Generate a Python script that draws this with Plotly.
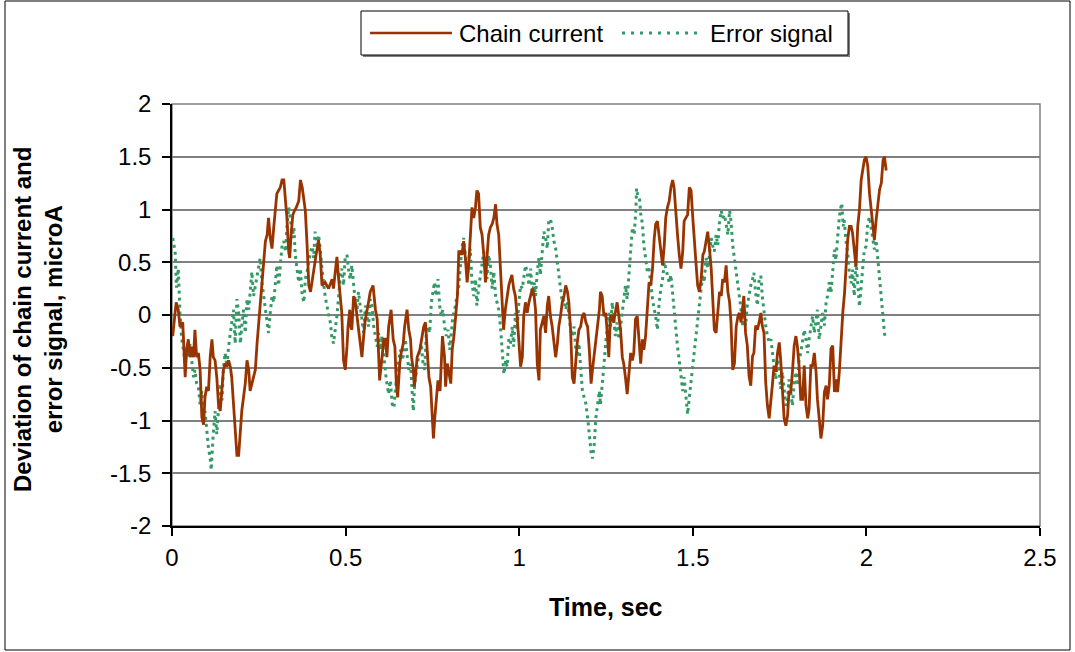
import plotly.graph_objects as go

# Chain current deviation, (time in s, value in microA)
chain_current = [
    (0.002, -0.20), (0.012, 0.12), (0.018, 0.05), (0.023, -0.11), (0.031, -0.07), (0.035, -0.40),
    (0.038, -0.59), (0.042, -0.33), (0.047, -0.23), (0.052, -0.40), (0.057, -0.30), (0.062, -0.40),
    (0.066, -0.14), (0.071, -0.40), (0.076, -0.36), (0.081, -0.52), (0.086, -0.97), (0.091, -1.04),
    (0.095, -0.78), (0.100, -0.68), (0.105, -0.72), (0.110, -0.40), (0.115, -0.23), (0.119, -0.40),
    (0.124, -0.43), (0.129, -0.59), (0.134, -0.85), (0.139, -0.91), (0.144, -0.65), (0.148, -0.52),
    (0.153, -0.46), (0.158, -0.49), (0.163, -0.43), (0.168, -0.49), (0.172, -0.59), (0.177, -0.85),
    (0.182, -1.04), (0.187, -1.33), (0.192, -1.33), (0.197, -1.04), (0.201, -0.91), (0.206, -0.78),
    (0.211, -0.65), (0.216, -0.43), (0.221, -0.52), (0.225, -0.72), (0.230, -0.65), (0.235, -0.59),
    (0.240, -0.52), (0.245, -0.27), (0.250, -0.07), (0.254, 0.05), (0.259, 0.28), (0.264, 0.47),
    (0.269, 0.70), (0.274, 0.76), (0.278, 0.92), (0.283, 0.73), (0.288, 0.63), (0.293, 0.83),
    (0.298, 1.02), (0.302, 1.15), (0.307, 1.18), (0.312, 1.21), (0.317, 1.28), (0.322, 1.28),
    (0.327, 1.08), (0.331, 0.92), (0.336, 0.60), (0.339, 0.54), (0.343, 0.76), (0.348, 0.95),
    (0.353, 0.99), (0.358, 1.02), (0.365, 1.08), (0.370, 1.28), (0.375, 1.21), (0.380, 1.05),
    (0.384, 0.99), (0.389, 0.67), (0.394, 0.28), (0.399, 0.22),
    (0.408, 0.44), (0.415, 0.57), (0.422, 0.71), (0.427, 0.57), (0.432, 0.28), (0.441, 0.31),
    (0.451, 0.25), (0.461, 0.34), (0.465, 0.25), (0.475, 0.55), (0.480, 0.34), (0.485, 0.18),
    (0.489, 0.02), (0.494, -0.43), (0.499, -0.52), (0.504, -0.30), (0.507, -0.11), (0.512, 0.05),
    (0.515, -0.11), (0.518, -0.14), (0.523, 0.18), (0.528, 0.12), (0.533, -0.01), (0.538, -0.11),
    (0.542, -0.23), (0.547, -0.40), (0.552, -0.20), (0.557, -0.04), (0.566, 0.12), (0.571, 0.22),
    (0.579, 0.28), (0.586, 0.05), (0.591, -0.04), (0.595, -0.40), (0.598, -0.62), (0.605, -0.40),
    (0.610, -0.23), (0.615, -0.23), (0.619, -0.40), (0.624, -0.11), (0.631, 0.05), (0.637, -0.23),
    (0.642, -0.30), (0.646, -0.65), (0.650, -0.78), (0.656, -0.46), (0.660, -0.36), (0.666, -0.27),
    (0.670, -0.11), (0.677, 0.05), (0.682, -0.14), (0.687, -0.23), (0.690, -0.40), (0.695, -0.52),
    (0.698, -0.68), (0.701, -0.59), (0.706, -0.40), (0.714, -0.33), (0.719, -0.23), (0.725, -0.11),
    (0.730, -0.07), (0.735, -0.30), (0.740, -0.59), (0.745, -0.68), (0.750, -1.01), (0.753, -1.17),
    (0.757, -0.97), (0.762, -0.78), (0.766, -0.62), (0.772, -0.72), (0.776, -0.49), (0.779, -0.20),
    (0.785, -0.40), (0.788, -0.68), (0.793, -0.46), (0.798, -0.56), (0.803, -0.65), (0.807, -0.33),
    (0.812, -0.20), (0.817, -0.01), (0.822, 0.18), (0.826, 0.60),
    (0.830, 0.60), (0.835, 0.57), (0.840, 0.70), (0.845, 0.54), (0.850, 0.31), (0.854, 0.44),
    (0.859, 0.76), (0.864, 1.02), (0.869, 0.92), (0.874, 1.02), (0.878, 1.18), (0.883, 1.15),
    (0.888, 0.83), (0.893, 0.76), (0.898, 0.57), (0.903, 0.31), (0.907, 0.54), (0.912, 0.76),
    (0.917, 0.83), (0.922, 0.86), (0.927, 0.92), (0.932, 1.05), (0.936, 0.86), (0.941, 0.76),
    (0.946, 0.44), (0.951, 0.02), (0.955, -0.14), (0.960, 0.05), (0.965, 0.18), (0.970, 0.28),
    (0.975, 0.34), (0.979, 0.38), (0.984, 0.25), (0.989, 0.18), (0.994, -0.01), (0.999, -0.27),
    (1.004, -0.49), (1.009, -0.40), (1.013, -0.01), (1.018, 0.12), (1.023, 0.02), (1.028, 0.12),
    (1.033, 0.18), (1.038, 0.25), (1.043, 0.18), (1.047, 0.05), (1.052, -0.46), (1.057, -0.62),
    (1.061, -0.14), (1.066, -0.07), (1.071, -0.01), (1.076, -0.17), (1.081, 0.09), (1.085, 0.18),
    (1.090, -0.01), (1.095, -0.11), (1.100, -0.27), (1.105, -0.40), (1.110, -0.27), (1.114, -0.11),
    (1.119, -0.01), (1.124, 0.12), (1.129, 0.18), (1.134, 0.28), (1.139, 0.22), (1.143, 0.12),
    (1.148, -0.14), (1.153, -0.59), (1.158, -0.65), (1.163, -0.40), (1.167, -0.27), (1.172, -0.14),
    (1.177, -0.11), (1.182, -0.01), (1.187, 0.02), (1.192, -0.07), (1.197, -0.11), (1.202, -0.33),
    (1.207, -0.65), (1.211, -0.52), (1.216, -0.36), (1.221, -0.20), (1.226, -0.04), (1.231, 0.05),
    (1.234, 0.22), (1.239, 0.18), (1.244, -0.01), (1.249, 0.02), (1.253, -0.14), (1.258, -0.40),
    (1.263, -0.01), (1.268, -0.01), (1.272, -0.07), (1.277, 0.02), (1.282, 0.12), (1.287, -0.01),
    (1.292, -0.14), (1.297, -0.40), (1.301, -0.46), (1.306, -0.59), (1.311, -0.75), (1.316, -0.56),
    (1.321, -0.36), (1.326, -0.43), (1.330, -0.36), (1.335, -0.04), (1.340, -0.01), (1.345, -0.23),
    (1.350, -0.46), (1.355, -0.23), (1.359, -0.33), (1.364, -0.20), (1.369, 0.12), (1.374, 0.31),
    (1.379, 0.28), (1.384, 0.44), (1.389, 0.73), (1.393, 0.86), (1.398, 0.89), (1.403, 0.76),
    (1.408, 0.60), (1.413, 0.47), (1.418, 0.67), (1.422, 0.92), (1.427, 1.02), (1.432, 1.08),
    (1.437, 1.21), (1.442, 1.28), (1.446, 1.21), (1.451, 0.95), (1.456, 0.76), (1.461, 0.57),
    (1.466, 0.44), (1.471, 0.60), (1.475, 0.89), (1.480, 0.92), (1.485, 0.95), (1.490, 1.21),
    (1.495, 1.18), (1.500, 0.92), (1.504, 0.70), (1.509, 0.50), (1.514, 0.28), (1.519, 0.22),
    (1.524, 0.34), (1.529, 0.57), (1.533, 0.60), (1.538, 0.70), (1.543, 0.79), (1.548, 0.63),
    (1.553, 0.44), (1.557, 0.18), (1.562, -0.14), (1.567, -0.17), (1.572, 0.02), (1.577, 0.22),
    (1.582, 0.18), (1.586, 0.34), (1.591, 0.31), (1.596, 0.47), (1.601, 0.22), (1.606, 0.12),
    (1.610, -0.07), (1.615, -0.52), (1.620, -0.46), (1.625, -0.11), (1.630, -0.01), (1.634, 0.02),
    (1.639, -0.07), (1.644, 0.12),
    (1.647, 0.18), (1.652, -0.17), (1.657, -0.29), (1.662, -0.58), (1.667, -0.67), (1.672, -0.39),
    (1.676, -0.36), (1.681, -0.10), (1.686, -0.14), (1.691, -0.07), (1.696, 0.02), (1.700, -0.10),
    (1.705, -0.17), (1.710, -0.64), (1.715, -0.86), (1.720, -0.98), (1.725, -0.83), (1.729, -0.67),
    (1.734, -0.48), (1.739, -0.54), (1.744, -0.36), (1.749, -0.26), (1.753, -0.42), (1.758, -0.70),
    (1.763, -0.98), (1.768, -1.05), (1.773, -0.95), (1.777, -0.73), (1.782, -0.73), (1.787, -0.54),
    (1.792, -0.29), (1.797, -0.20), (1.801, -0.29), (1.806, -0.48), (1.811, -0.80), (1.816, -0.80),
    (1.821, -0.48), (1.826, -0.86), (1.831, -0.98), (1.835, -0.89), (1.840, -0.48), (1.845, -0.48),
    (1.850, -0.36), (1.855, -0.54), (1.859, -0.80), (1.864, -0.98), (1.869, -1.17), (1.874, -1.05),
    (1.879, -0.73), (1.884, -0.67), (1.888, -0.80), (1.893, -0.67), (1.898, -0.32), (1.903, -0.29),
    (1.908, -0.73), (1.912, -0.61), (1.917, -0.73), (1.922, -0.54), (1.927, -0.23), (1.932, 0.02),
    (1.937, 0.21), (1.941, 0.43), (1.946, 0.71), (1.951, 0.84), (1.956, 0.84), (1.960, 0.78),
    (1.965, 0.62), (1.970, 0.46), (1.975, 0.84), (1.980, 1.00), (1.985, 1.28), (1.990, 1.37),
    (1.994, 1.47), (1.999, 1.50), (2.004, 1.41), (2.009, 1.15), (2.014, 0.97), (2.018, 0.87),
    (2.023, 0.71), (2.028, 0.90), (2.033, 1.03), (2.038, 1.19), (2.043, 1.25), (2.048, 1.47),
    (2.052, 1.50), (2.057, 1.37),
]

# Error signal, (time in s, value in microA)
error_signal = [
    (0.002, 0.73), (0.009, 0.60), (0.013, 0.26), (0.018, 0.44), (0.023, 0.02), (0.028, -0.23),
    (0.033, -0.33), (0.038, -0.46), (0.042, -0.33), (0.047, -0.40), (0.052, -0.27), (0.057, -0.46),
    (0.062, -0.59), (0.066, -0.52), (0.071, -0.65), (0.076, -0.68), (0.081, -0.85), (0.086, -0.72),
    (0.091, -0.97), (0.095, -0.91), (0.100, -1.13), (0.105, -1.26), (0.110, -1.36), (0.113, -1.47),
    (0.118, -1.17), (0.122, -1.04), (0.124, -0.91), (0.129, -1.13), (0.134, -0.85), (0.139, -0.65),
    (0.144, -0.81), (0.148, -0.52), (0.153, -0.36), (0.158, -0.49), (0.163, -0.30), (0.168, -0.17),
    (0.172, -0.07), (0.177, 0.05), (0.182, -0.27), (0.187, 0.15), (0.192, 0.02), (0.197, -0.27),
    (0.201, -0.11), (0.206, 0.05), (0.211, -0.17), (0.216, 0.15), (0.221, 0.05), (0.225, 0.25),
    (0.230, 0.41), (0.235, 0.18), (0.240, 0.28), (0.245, 0.34), (0.250, 0.44), (0.254, 0.54),
    (0.259, 0.31), (0.264, 0.18), (0.269, 0.05), (0.274, -0.07), (0.278, -0.17), (0.283, 0.02),
    (0.288, 0.18), (0.293, 0.12), (0.298, 0.34), (0.302, 0.47), (0.307, 0.28), (0.312, 0.44),
    (0.317, 0.66), (0.322, 0.70), (0.327, 0.60), (0.331, 0.83), (0.336, 1.02), (0.341, 0.92),
    (0.346, 0.73), (0.351, 0.83), (0.355, 0.57), (0.360, 0.44), (0.365, 0.31), (0.370, 0.44),
    (0.375, 0.18), (0.380, 0.12), (0.384, 0.34), (0.389, 0.41), (0.394, 0.50), (0.399, 0.60),
    (0.404, 0.65), (0.408, 0.54),
    (0.412, 0.79), (0.417, 0.66), (0.422, 0.76), (0.427, 0.63), (0.432, 0.44), (0.436, 0.31),
    (0.441, 0.18), (0.446, 0.09), (0.451, 0.02), (0.456, -0.07), (0.460, -0.20), (0.465, -0.27),
    (0.470, -0.14), (0.475, -0.01), (0.480, 0.18), (0.485, 0.38), (0.489, 0.44), (0.494, 0.28),
    (0.499, 0.55), (0.504, 0.57), (0.508, 0.44), (0.513, 0.34), (0.518, 0.47), (0.523, 0.25),
    (0.528, 0.12), (0.533, 0.05), (0.537, 0.22), (0.542, 0.09), (0.547, -0.04), (0.552, -0.17),
    (0.557, 0.09), (0.562, -0.01), (0.566, -0.11), (0.571, 0.15), (0.576, 0.09), (0.581, -0.11),
    (0.586, -0.23), (0.591, -0.30), (0.595, -0.17), (0.600, -0.33), (0.605, -0.20), (0.610, -0.40),
    (0.615, -0.55), (0.619, -0.65), (0.624, -0.75), (0.629, -0.62), (0.634, -0.84), (0.639, -0.88),
    (0.644, -0.68), (0.649, -0.52), (0.653, -0.43), (0.658, -0.33), (0.663, -0.43), (0.668, -0.36),
    (0.672, -0.23), (0.677, -0.40), (0.682, -0.52), (0.687, -0.46), (0.692, -0.81), (0.695, -0.91),
    (0.699, -0.65), (0.704, -0.52), (0.709, -0.43), (0.713, -0.33), (0.718, -0.27), (0.723, -0.46),
    (0.728, -0.52), (0.732, -0.20), (0.737, -0.11), (0.742, -0.17), (0.747, 0.12), (0.752, 0.25),
    (0.756, 0.31), (0.761, 0.18), (0.766, 0.34), (0.771, 0.09), (0.775, -0.01), (0.780, 0.05),
    (0.785, -0.11), (0.790, -0.20), (0.795, -0.14), (0.800, -0.33), (0.804, -0.20), (0.809, -0.01),
    (0.814, 0.05), (0.819, 0.15), (0.824, 0.25),
    (0.826, 0.28), (0.830, 0.44), (0.835, 0.63), (0.840, 0.73), (0.845, 0.57), (0.850, 0.41),
    (0.854, 0.50), (0.859, 0.63), (0.864, 0.31), (0.869, 0.18), (0.874, 0.34), (0.878, 0.09),
    (0.883, 0.25), (0.888, 0.38), (0.893, 0.47), (0.898, 0.60), (0.903, 0.50), (0.907, 0.34),
    (0.912, 0.57), (0.917, 0.47), (0.922, 0.25), (0.927, 0.41), (0.932, 0.18), (0.936, 0.12),
    (0.941, 0.05), (0.946, -0.11), (0.951, -0.36), (0.956, -0.56), (0.961, -0.43), (0.965, -0.49),
    (0.970, -0.23), (0.975, -0.27), (0.980, -0.11), (0.984, -0.30), (0.989, 0.02), (0.994, -0.14),
    (0.999, 0.12), (1.004, 0.28), (1.009, 0.25), (1.013, 0.34), (1.018, 0.47), (1.023, 0.41),
    (1.028, 0.28), (1.033, 0.44), (1.038, 0.18), (1.043, 0.31), (1.047, 0.18), (1.052, 0.41),
    (1.057, 0.54), (1.061, 0.38), (1.066, 0.57), (1.071, 0.79), (1.076, 0.73), (1.081, 0.63),
    (1.085, 0.89), (1.090, 0.91), (1.095, 0.83), (1.100, 0.70), (1.105, 0.63), (1.110, 0.50),
    (1.114, 0.41), (1.119, 0.25), (1.124, 0.12), (1.129, 0.15), (1.134, 0.05), (1.139, 0.12),
    (1.143, -0.01), (1.148, -0.14), (1.153, -0.20), (1.158, -0.11), (1.163, -0.33), (1.167, -0.40),
    (1.172, -0.27), (1.177, -0.52), (1.182, -0.72), (1.187, -0.78), (1.192, -0.84), (1.197, -0.97),
    (1.202, -1.17), (1.207, -1.30), (1.211, -1.36), (1.216, -1.23), (1.221, -0.97), (1.226, -0.84),
    (1.231, -0.72),
    (1.234, -0.85), (1.239, -0.68), (1.244, -0.52), (1.246, -0.40), (1.249, -0.27), (1.253, -0.11),
    (1.258, 0.02), (1.263, -0.11), (1.268, 0.12), (1.272, -0.04), (1.277, -0.20), (1.282, -0.07),
    (1.287, -0.23), (1.292, -0.11), (1.297, 0.02), (1.301, 0.12), (1.306, 0.28), (1.311, 0.15),
    (1.316, 0.38), (1.319, 0.57), (1.322, 0.70), (1.326, 0.83), (1.331, 0.76), (1.336, 0.99),
    (1.338, 1.20), (1.342, 1.12), (1.347, 1.09), (1.350, 0.96), (1.355, 0.86), (1.359, 0.66),
    (1.364, 0.54), (1.369, 0.41), (1.374, 0.44), (1.379, 0.28), (1.384, 0.15), (1.389, 0.05),
    (1.393, -0.01), (1.398, -0.14), (1.403, 0.12), (1.408, 0.25), (1.413, 0.34), (1.418, 0.50),
    (1.422, 0.44), (1.427, 0.38), (1.432, 0.31), (1.437, 0.38), (1.442, 0.18), (1.446, 0.02),
    (1.451, -0.17), (1.456, -0.30), (1.461, -0.43), (1.466, -0.56), (1.471, -0.72), (1.475, -0.59),
    (1.480, -0.81), (1.485, -0.94), (1.490, -0.78), (1.495, -0.62), (1.499, -0.52), (1.504, -0.33),
    (1.509, -0.17), (1.514, -0.01), (1.519, 0.12), (1.524, 0.25), (1.529, 0.38), (1.533, 0.31),
    (1.538, 0.54), (1.543, 0.44), (1.548, 0.57), (1.553, 0.73), (1.557, 0.66), (1.562, 0.60),
    (1.567, 0.76), (1.572, 0.66), (1.577, 0.89), (1.582, 0.99), (1.586, 0.92), (1.591, 0.95),
    (1.596, 0.86), (1.601, 0.76), (1.606, 0.99), (1.610, 0.89), (1.615, 0.66), (1.620, 0.54),
    (1.625, 0.44), (1.630, 0.31), (1.634, 0.18), (1.639, 0.05), (1.644, -0.11),
    (1.647, 0.02), (1.652, -0.10), (1.657, 0.09), (1.662, 0.21), (1.667, 0.28), (1.672, 0.34),
    (1.676, 0.40), (1.681, 0.21), (1.686, 0.09), (1.691, 0.34), (1.696, 0.37), (1.700, 0.18),
    (1.705, 0.02), (1.710, -0.10), (1.715, -0.20), (1.720, -0.26), (1.725, -0.23), (1.729, -0.36),
    (1.734, -0.48), (1.739, -0.61), (1.744, -0.42), (1.749, -0.54), (1.753, -0.70), (1.758, -0.54),
    (1.763, -0.73), (1.768, -0.86), (1.773, -0.80), (1.777, -0.61), (1.782, -0.73), (1.787, -0.86),
    (1.792, -0.64), (1.797, -0.54), (1.801, -0.67), (1.806, -0.42), (1.811, -0.36), (1.816, -0.23),
    (1.821, -0.14), (1.826, -0.23), (1.831, -0.36), (1.835, -0.23), (1.840, -0.10), (1.845, -0.01),
    (1.850, -0.17), (1.855, -0.04), (1.859, 0.05), (1.864, -0.23), (1.869, -0.10), (1.874, 0.02),
    (1.879, -0.10), (1.884, 0.12), (1.888, 0.18), (1.893, 0.31), (1.898, 0.21), (1.903, 0.46),
    (1.908, 0.62), (1.912, 0.52), (1.917, 0.75), (1.922, 0.93), (1.927, 1.03), (1.929, 1.06),
    (1.933, 0.84), (1.936, 0.90), (1.941, 0.71), (1.946, 0.59), (1.951, 0.40), (1.956, 0.30),
    (1.960, 0.43), (1.965, 0.18), (1.970, 0.52), (1.975, 0.30), (1.980, 0.08), (1.985, 0.27),
    (1.990, 0.46), (1.994, 0.62), (1.999, 0.65), (2.004, 0.87), (2.009, 0.93), (2.014, 0.81),
    (2.018, 0.75), (2.023, 0.62), (2.028, 0.71), (2.033, 0.52), (2.038, 0.30), (2.043, 0.15),
    (2.048, -0.04), (2.052, -0.17), (2.055, -0.23),
]

series_names = ["Chain current", "Error signal"]
x_ticks = [0, 0.5, 1, 1.5, 2, 2.5]
x_tick_labels = ["0", "0.5", "1", "1.5", "2", "2.5"]
y_ticks = [-2, -1.5, -1, -0.5, 0, 0.5, 1, 1.5, 2]
y_tick_labels = ["-2", "-1.5", "-1", "-0.5", "0", "0.5", "1", "1.5", "2"]

chain_t, chain_v = zip(*chain_current)
error_t, error_v = zip(*error_signal)

CHAIN_COLOR = "#993300"
ERROR_COLOR = "#339966"
FONT = "Liberation Sans, Arial, sans-serif"

W, H = 1075, 652
ML, MR, MT, MB = 172, 35, 104, 126
PW, PH = W - ML - MR, H - MT - MB


def px(x):
    """Pixel column -> paper x."""
    return (x - ML) / PW


def py(y):
    """Pixel row -> paper y."""
    return (H - MB - y) / PH


fig = go.Figure()
fig.add_trace(go.Scatter(
    x=error_t, y=error_v, mode="lines", name=series_names[1],
    line=dict(color=ERROR_COLOR, width=3, dash="3px,4px"),
))
fig.add_trace(go.Scatter(
    x=chain_t, y=chain_v, mode="lines", name=series_names[0],
    line=dict(color=CHAIN_COLOR, width=2.8),
))

shapes = [
    # plot-area frame
    dict(type="rect", xref="paper", yref="paper", x0=0, x1=1, y0=0, y1=1,
         line=dict(color="#808080", width=1.5), layer="below"),
    # outer chart frame
    dict(type="rect", xref="paper", yref="paper", x0=px(5), x1=px(1070), y0=py(1), y1=py(650),
         line=dict(color="#000000", width=1)),
    # legend box with shadow
    dict(type="rect", xref="paper", yref="paper", x0=px(363), x1=px(850), y0=py(13), y1=py(57),
         line=dict(color="#808080", width=0), fillcolor="#808080"),
    dict(type="rect", xref="paper", yref="paper", x0=px(361), x1=px(848), y0=py(11), y1=py(55),
         line=dict(color="#000000", width=1), fillcolor="white"),
    # legend samples
    dict(type="line", xref="paper", yref="paper", x0=px(370), x1=px(452), y0=py(33), y1=py(33),
         line=dict(color=CHAIN_COLOR, width=2.5)),
    dict(type="line", xref="paper", yref="paper", x0=px(622), x1=px(700), y0=py(33), y1=py(33),
         line=dict(color=ERROR_COLOR, width=3, dash="3px,6px")),
]

annotations = [
    dict(text=series_names[0], xref="paper", yref="paper", x=px(457), y=py(33),
         xanchor="left", yanchor="middle", showarrow=False,
         font=dict(family=FONT, size=24, color="black")),
    dict(text=series_names[1], xref="paper", yref="paper", x=px(708), y=py(33),
         xanchor="left", yanchor="middle", showarrow=False,
         font=dict(family=FONT, size=24, color="black")),
    dict(text="Time, sec", xref="paper", yref="paper", x=px(606), y=py(607),
         xanchor="center", yanchor="middle", showarrow=False,
         font=dict(family=FONT, size=25, color="black", weight="bold")),
    dict(text="Deviation of chain current and<br>error signal, microA", xref="paper", yref="paper",
         x=px(38), y=py(320), xanchor="center", yanchor="middle", textangle=-90, showarrow=False,
         font=dict(family=FONT, size=24, color="black", weight="bold")),
]

fig.update_layout(
    width=W, height=H, autosize=False,
    margin=dict(l=ML, r=MR, t=MT, b=MB, pad=0),
    paper_bgcolor="white", plot_bgcolor="white",
    showlegend=False,
    font=dict(family=FONT, size=24, color="black"),
    shapes=shapes, annotations=annotations,
    xaxis=dict(
        range=[0, 2.5], tickmode="array", tickvals=x_ticks, ticktext=x_tick_labels,
        showgrid=False, zeroline=False, showline=True, linecolor="black", linewidth=1.5,
        ticks="outside", ticklen=8, tickwidth=1.5, tickcolor="black", ticklabelstandoff=1,
    ),
    yaxis=dict(
        range=[-2, 2], tickmode="array", tickvals=y_ticks, ticktext=y_tick_labels,
        showgrid=True, gridcolor="#808080", gridwidth=1.5, zeroline=False,
        showline=True, linecolor="black", linewidth=1.5,
        ticks="outside", ticklen=8, tickwidth=1.5, tickcolor="black", ticklabelstandoff=6,
    ),
)

fig.write_html("out.html")
